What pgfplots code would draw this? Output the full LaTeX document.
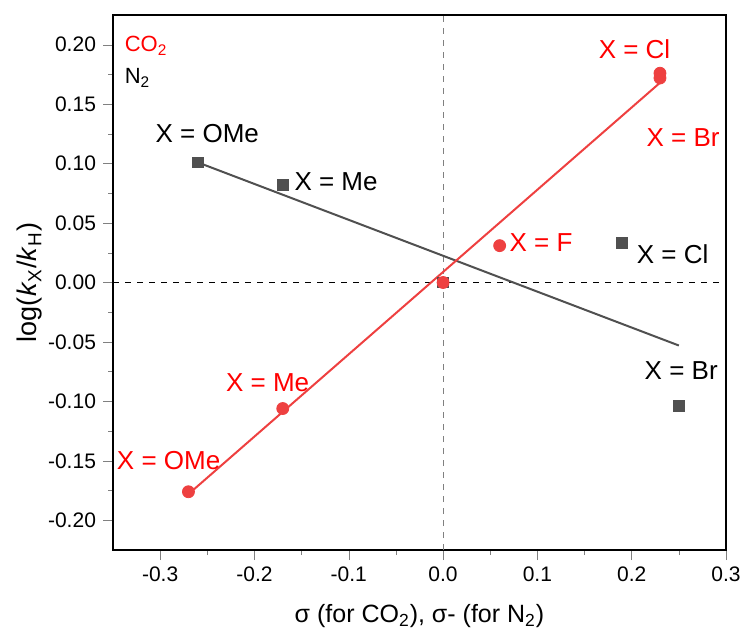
\documentclass[border=0pt]{standalone}
\usepackage{fontspec}
\setmainfont{Liberation Sans}
\usepackage{pgfplots}
\pgfplotsset{compat=1.18}

\definecolor{co2}{RGB}{238,64,64}
\definecolor{labred}{RGB}{255,0,0}
\definecolor{ntwo}{RGB}{80,80,80}

\begin{document}
\begin{tikzpicture}
  \begin{axis}[
      scale only axis, width=306.5pt, height=267.5pt,
      xmin=-0.35, xmax=0.3, ymin=-0.225, ymax=0.225,
      xtick={-0.3,-0.2,-0.1,0,0.1,0.2,0.3},
      ytick={-0.2,-0.15,-0.1,-0.05,0,0.05,0.1,0.15,0.2},
      minor x tick num=1, minor y tick num=1,
      tick pos=left, tick align=outside,
      major tick length=5pt, minor tick length=2.5pt,
      axis line style={line width=0.8pt},
      font=\fontsize{10.5}{12}\selectfont,
      /pgf/number format/assume math mode=true,
      xticklabel style={/pgf/number format/.cd, fixed, fixed zerofill, precision=1},
      yticklabel style={/pgf/number format/.cd, fixed, fixed zerofill, precision=2},
      xlabel={σ (for CO\textsubscript{2}), σ- (for N\textsubscript{2})},
      ylabel={log(\textit{k}\textsubscript{X}/\textit{k}\textsubscript{H})},
      xlabel style={font=\fontsize{12.5}{14}\selectfont,
        at={(axis description cs:0.5,0)}, anchor=center, yshift=-33pt},
      ylabel style={font=\fontsize{13.5}{15}\selectfont,
        at={(axis description cs:0,0.5)}, anchor=center, yshift=41.5pt},
      clip=false,
    ]
    % reference lines
    \addplot[gray, dashed, line width=0.5pt] coordinates {(0,-0.225) (0,0.225)};
    \addplot[black, dashed, line width=0.5pt] coordinates {(-0.35,0) (0.3,0)};

    % N2 (sigma-)
    \addplot[ntwo, line width=1pt] coordinates {(-0.26,0.101) (0.25,-0.053)};
    \addplot[only marks, mark=square*, mark size=2.7pt, ntwo] coordinates {
      (-0.26,0.101) (-0.17,0.082) (0,0) (0.19,0.033) (0.25,-0.104)
    };

    % CO2 (sigma)
    \addplot[co2, line width=1pt] coordinates {(-0.27,-0.178) (0.23,0.168)};
    \addplot[only marks, mark=*, mark size=3pt, co2] coordinates {
      (-0.27,-0.176) (-0.17,-0.106) (0,0) (0.06,0.031) (0.23,0.176) (0.23,0.172)
    };

    \begin{scope}[font=\fontsize{13}{15}\selectfont]
      \node[labred, anchor=west, font=\fontsize{11}{13}\selectfont] at (axis cs:-0.345,0.199) {CO\textsubscript{2}};
      \node[black, anchor=west, font=\fontsize{11}{13}\selectfont] at (axis cs:-0.345,0.172) {N\textsubscript{2}};
      \node[black] at (axis cs:-0.250,0.125) {X = OMe};
      \node[black, anchor=west] at (axis cs:-0.165,0.085) {X = Me};
      \node[black, anchor=west] at (axis cs:0.198,0.024) {X = Cl};
      \node[black] at (axis cs:0.2525,-0.074) {X = Br};
      \node[labred] at (axis cs:0.203,0.196) {X = Cl};
      \node[labred] at (axis cs:0.2545,0.122) {X = Br};
      \node[labred, anchor=west] at (axis cs:0.063,0.034) {X = F};
      \node[labred] at (axis cs:-0.186,-0.084) {X = Me};
      \node[labred] at (axis cs:-0.291,-0.150) {X = OMe};
    \end{scope}
  \end{axis}
  % page size as in the reference (741 x 635 px at 2 px per pt)
  \pgfresetboundingbox
  \path (current axis.south west) +(-56.5pt,-42.5pt) (current axis.north east) +(7.5pt,7.5pt);
\end{tikzpicture}
\end{document}
